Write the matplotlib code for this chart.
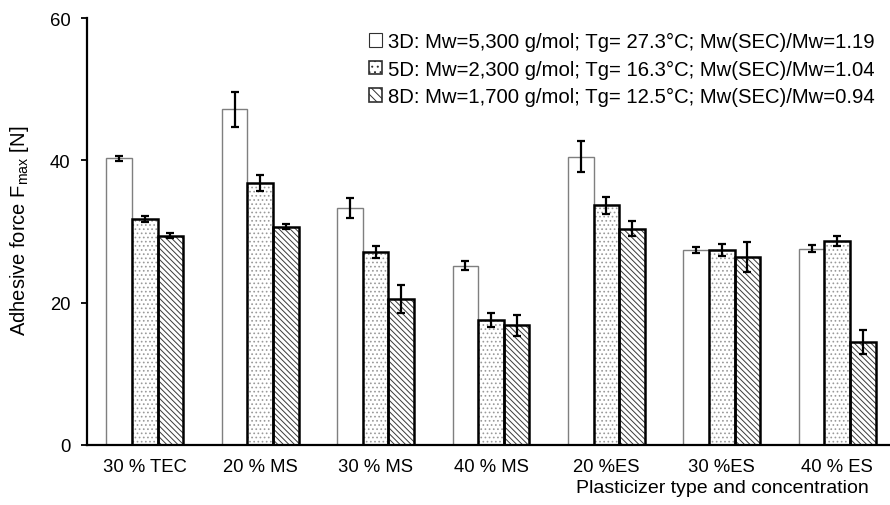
import matplotlib
matplotlib.use("Agg")
import matplotlib.pyplot as plt
import matplotlib.patches as mpatches
import numpy as np

plt.rcParams['font.family'] = ['Liberation Sans', 'DejaVu Sans']
plt.rcParams['hatch.linewidth'] = 0.7

categories = ["30 % TEC", "20 % MS", "30 % MS", "40 % MS", "20 %ES", "30 %ES", "40 % ES"]
series_labels = [
    "3D: Mw=5,300 g/mol; Tg= 27.3°C; Mw(SEC)/Mw=1.19",
    "5D: Mw=2,300 g/mol; Tg= 16.3°C; Mw(SEC)/Mw=1.04",
    "8D: Mw=1,700 g/mol; Tg= 12.5°C; Mw(SEC)/Mw=0.94",
]
vals_3d = [40.3, 47.2, 33.3, 25.2, 40.5, 27.4, 27.6]
vals_5d = [31.7, 36.8, 27.1, 17.6, 33.7, 27.4, 28.6]
vals_8d = [29.4, 30.7, 20.5, 16.8, 30.4, 26.4, 14.5]
err_3d = [0.33, 2.45, 1.4, 0.6, 2.2, 0.45, 0.47]
err_5d = [0.42, 1.1, 0.87, 1.0, 1.2, 0.9, 0.7]
err_8d = [0.37, 0.4, 1.95, 1.45, 1.05, 2.1, 1.65]

fig = plt.figure(figsize=(8.9, 5.06), dpi=100)
ax = fig.add_axes([87/890, 60/506, (895-87)/890, (446-19)/506])

x = np.arange(len(categories))
w = 0.222
hatches = [None, '....', '\\\\\\\\\\\\']
hatch_cols = [None, '#9a9a9a', '#3a3a3a']
edge_cols = ['#7f7f7f', 'black', 'black']
edge_lws = [1.0, 1.8, 1.8]
data = [(vals_3d, err_3d), (vals_5d, err_5d), (vals_8d, err_8d)]
for i, (v, e) in enumerate(data):
    pos = x + (i - 1) * w
    if hatches[i] is not None:
        ax.bar(pos, v, width=w, facecolor='white', edgecolor=hatch_cols[i],
               linewidth=0, hatch=hatches[i], zorder=2)
        ax.bar(pos, v, width=w, facecolor='none', edgecolor=edge_cols[i],
               linewidth=edge_lws[i], zorder=2.5)
    else:
        ax.bar(pos, v, width=w, facecolor='white', edgecolor=edge_cols[i],
               linewidth=edge_lws[i], zorder=2)
    ax.errorbar(pos, v, yerr=e, fmt='none', ecolor='black', elinewidth=1.6,
                capsize=3.2, capthick=1.6, zorder=3)

proxies = [
    mpatches.Patch(facecolor='white', edgecolor='#303030', linewidth=0.8),
    mpatches.Patch(facecolor='white', edgecolor='#303030', linewidth=1.2, hatch='...'),
    mpatches.Patch(facecolor='white', edgecolor='#303030', linewidth=1.2, hatch='\\\\\\\\'),
]

ax.set_xlim(-0.5, 6.5)
ax.set_ylim(0, 60)
ax.set_yticks([0, 20, 40, 60])
ax.set_xticks(x)
ax.set_xticklabels(categories, fontsize=13.3)
ax.tick_params(axis='x', length=0, pad=9.5)
ax.tick_params(axis='y', labelsize=13.3, length=4, width=1.3, direction='out', pad=8)
for s in ['top', 'right']:
    ax.spines[s].set_visible(False)
ax.spines['left'].set_linewidth(1.6)
ax.spines['bottom'].set_linewidth(1.6)

fig.text(20/890, 1 - 231/506, r'Adhesive force F$_{\mathregular{max}}$ [N]', fontsize=14.5,
         rotation=90, ha='center', va='center')
fig.text(869/890, 1 - 489/506, 'Plasticizer type and concentration', fontsize=14,
         ha='right', va='center')

fig.legend(proxies, series_labels, loc='upper right',
           bbox_to_anchor=(875/890, 1 - 33/506), bbox_transform=fig.transFigure,
           frameon=False, fontsize=14.6, handlelength=0.65, handleheight=0.65,
           handletextpad=0.3, labelspacing=0.42, borderaxespad=0, borderpad=0)

fig.savefig('out.png', dpi=100)
